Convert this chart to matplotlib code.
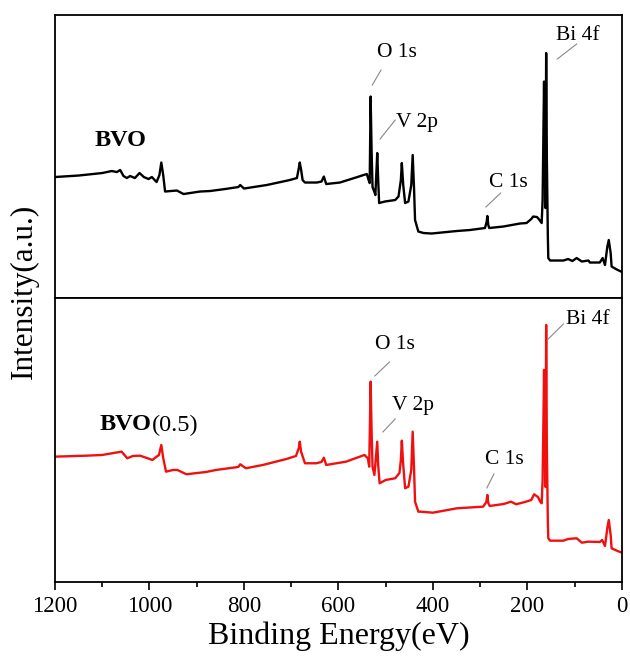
import matplotlib
matplotlib.use("Agg")
import matplotlib.pyplot as plt
from matplotlib.ticker import MultipleLocator

plt.rcParams['font.family'] = ['Liberation Serif', 'DejaVu Serif']

# BVO survey spectrum (binding energy in eV, intensity in a.u.)
bvo_energy = [1200, 1150, 1100, 1080, 1069, 1062, 1055, 1048, 1041, 1031, 1021, 1012,
              1002, 995, 985, 979, 975, 971, 967, 955, 942, 928, 893, 872, 840, 812,
              808, 800, 752, 703, 688, 684, 682, 679, 676, 671, 646, 636, 631, 626,
              597, 560, 547, 540, 537, 534, 532, 530, 528, 524, 522, 518, 516, 514,
              502, 480, 473, 468, 466, 463, 459, 452, 446, 443, 440, 438, 431, 420,
              403, 350, 322, 290, 286.5, 285, 283, 281, 251, 216, 202, 192, 188, 180,
              177, 170, 168, 166, 165, 163.5, 162, 160.5, 159, 157, 156, 152, 124,
              114, 105, 96, 85, 71, 68, 47, 41, 36, 31, 28, 24, 22, 11, 0]
bvo_intensity = [121, 122.5, 125, 127, 126, 128, 122, 120, 122, 120, 125, 121,
                 119, 121, 116, 123, 135.5, 123, 106.5, 107, 107.5, 104, 106.5, 107, 109, 111,
                 113, 109.5, 113, 118, 120, 130, 135.5, 128, 118, 115.5, 115.5, 116.5, 121.5, 114,
                 115.5, 121, 123, 124, 119, 115, 201.5, 148, 111, 106, 103, 145, 118, 95,
                 96.5, 98, 101.5, 118, 135, 113, 95, 96.5, 113, 143, 108, 78, 66.5, 65,
                 64.5, 67, 68, 70, 76, 82, 73, 70, 71.5, 74.5, 75, 79, 81.5, 81,
                 79.5, 75, 98, 178, 216.5, 148, 90, 245, 138, 63, 40, 37.5, 37.5,
                 39, 37, 40, 36.5, 37.5, 35.5, 35.5, 40, 33, 51.5, 58, 45, 31.5, 28.5, 26]

# BVO(0.5) survey spectrum
bvo05_energy = [1200, 1133, 1100, 1059, 1047, 1035, 1020, 1004, 994, 980, 975, 971,
                965, 950, 941, 922, 880, 859, 812, 808, 796, 760, 710, 690, 684, 682,
                679, 671, 647, 636, 631, 626, 584, 545, 538, 535, 532, 530, 528, 524,
                518, 516, 513, 500, 480, 471, 468, 466, 463, 459, 452, 446, 443, 440,
                438, 431, 427, 400, 349, 294, 287, 285, 283, 280, 250, 235, 224, 205,
                192, 186, 178, 173, 170, 168, 166, 165, 163.5, 162, 160.5, 159, 157,
                156, 152, 124, 114, 96, 85, 71, 47, 42, 36, 31, 28, 24, 22, 11, 0]
bvo05_intensity = [125.3, 126.3, 127, 130.3, 123.7, 126, 126.3, 123.7, 122, 127, 137, 124,
                   110.3, 112, 112, 107.7, 110, 112, 115, 117.7, 113.7, 117, 123, 126, 134, 140.3,
                   130, 118.7, 118.7, 120, 124.3, 117, 120.3, 127, 123.7, 115.3, 200.3, 152, 115.3, 107,
                   140.3, 117, 98.7, 102, 103.7, 109, 122, 141.3, 117, 93.7, 95.3, 112, 150.3, 112,
                   80.3, 70.3, 70.3, 69.3, 73.7, 75.3, 80, 87, 79, 76, 78, 80.3, 77.7, 80,
                   82, 87.7, 85, 80.3, 78.7, 102, 172, 212, 152, 95, 257, 132, 62,
                   43.7, 41.3, 41.3, 43, 43.7, 39.3, 40.3, 40, 42, 36, 54, 62, 47, 33.7, 31.3, 29.3]

peak_labels = ['O 1s', 'V 2p', 'C 1s', 'Bi 4f']
# label text positions and leader lines (energy, intensity) for each panel
top_text = [(477, 246), (434, 176), (241, 116), (93, 263)]
top_lines = [((510, 228), (528.5, 213)), ((480, 178), (512, 159)),
             ((257, 105), (288, 91)), ((96, 254), (137, 239))]
bot_text = [(480, 237), (442, 176), (249, 122), (73, 262)]
bot_lines = [((492, 220), (523, 206)), ((480, 163), (506, 150)),
             ((271, 108), (286, 94)), ((124, 258), (156, 243))]

fig = plt.figure(figsize=(6.3, 6.57), dpi=100)
ax1 = fig.add_axes([0.0873, 0.5464, 0.9, 0.4307])
ax2 = fig.add_axes([0.0873, 0.1142, 0.9, 0.4323], sharex=ax1)

ax1.plot(bvo_energy, bvo_intensity, color='black', lw=1.7)
ax2.plot(bvo05_energy, bvo05_intensity, color='#f01010', lw=1.7)

ax1.set_ylim(0, 283)
ax2.set_ylim(0, 284)
ax2.set_xlim(1200, 0)

for ax in (ax1, ax2):
    ax.set_yticks([])
    for s in ax.spines.values():
        s.set_linewidth(1.3)

ax1.tick_params(axis='x', which='both', bottom=False, labelbottom=False)
ax2.xaxis.set_major_locator(MultipleLocator(200))
ax2.xaxis.set_minor_locator(MultipleLocator(100))
ax2.tick_params(axis='x', which='major', direction='out', length=6, width=1.2, labelsize=16.5, pad=4)
ax2.tick_params(axis='x', which='minor', direction='out', length=3.5, width=1.2)

ax2.set_xlabel('Binding Energy(eV)', fontsize=23, labelpad=3)
fig.text(0.038, 0.557, 'Intensity(a.u.)', rotation=90, fontsize=22.5, ha='center', va='center')

for ax, texts, lines in ((ax1, top_text, top_lines), (ax2, bot_text, bot_lines)):
    for lab, (tx, ty), ((x0, y0), (x1, y1)) in zip(peak_labels, texts, lines):
        ax.text(tx, ty, lab, fontsize=15.5, ha='center', va='center')
        ax.plot([x0, x1], [y0, y1], color='#888888', lw=0.8)

ax1.text(1062, 158, 'BVO', fontsize=17.5, fontweight='bold', ha='center', va='center')
t = ax2.text(1105, 157, 'BVO', fontsize=17.5, fontweight='bold', ha='left', va='center')
ax2.annotate('(0.5)', xy=(1, 0.5), xycoords=t, fontsize=17.5, ha='left', va='center')

fig.savefig('out.png', dpi=100)
